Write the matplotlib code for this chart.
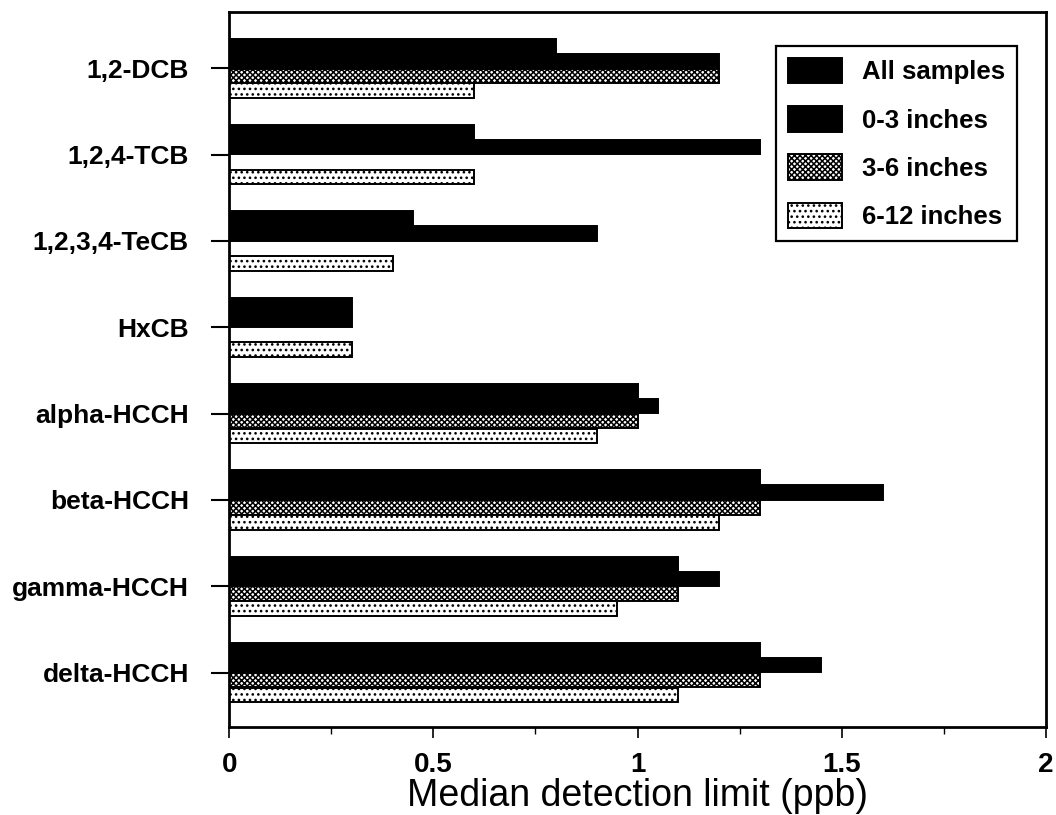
import numpy as np
import matplotlib
matplotlib.use("Agg")
import matplotlib.pyplot as plt
from matplotlib.ticker import MultipleLocator

# compounds, top to bottom
compuestos = ["1,2-DCB", "1,2,4-TCB", "1,2,3,4-TeCB", "HxCB",
              "alpha-HCCH", "beta-HCCH", "gamma-HCCH", "delta-HCCH"]

# median detection limit (ppb); nan = no bar
todas = [0.8, 0.6, 0.45, 0.3, 1.0, 1.3, 1.1, 1.3]
prof_0_3 = [1.2, 1.3, 0.9, 0.3, 1.05, 1.6, 1.2, 1.45]
prof_3_6 = [1.2, np.nan, np.nan, np.nan, 1.0, 1.3, 1.1, 1.3]
prof_6_12 = [0.6, 0.6, 0.4, 0.3, 0.9, 1.2, 0.95, 1.1]

etiquetas = ["All samples", "0-3 inches", "3-6 inches", "6-12 inches"]

plt.rcParams['font.family'] = ['Liberation Sans', 'DejaVu Sans']
plt.rcParams['hatch.linewidth'] = 1.1

fig = plt.figure(figsize=(10.56, 8.15), dpi=100)
ax = fig.add_axes([0.217, 0.108, 0.7735, 0.877])

y = np.arange(len(compuestos))
paso = 0.173
alto = 0.168

series = [todas, prof_0_3, prof_3_6, prof_6_12]
estilos = [
    dict(color="black", edgecolor="black"),
    dict(color="black", edgecolor="black"),
    dict(facecolor="white", edgecolor="black", hatch="xxxxxx"),
    dict(facecolor="white", edgecolor="black", hatch="..."),
]
for i, (vals, est, lab) in enumerate(zip(series, estilos, etiquetas)):
    ax.barh(y + (i - 1.5) * paso, vals, height=alto, linewidth=1.4,
            label=lab, **est)

ax.set_xlim(0, 2)
ax.set_ylim(7.63, -0.65)
ax.set_yticks(y)
ax.set_yticklabels(compuestos, fontsize=19, fontweight="bold")
ax.xaxis.set_minor_locator(MultipleLocator(0.25))
ax.set_xticks([0, 0.5, 1, 1.5, 2])
ax.set_xticklabels(["0", "0.5", "1", "1.5", "2"], fontsize=20, fontweight="bold")

ax.tick_params(axis="y", length=13, width=1.5, pad=16)
ax.tick_params(axis="x", which="major", length=8, width=1.2, pad=10)
ax.tick_params(axis="x", which="minor", length=5, width=1.0)

for s in ax.spines.values():
    s.set_linewidth(2)

ax.set_xlabel("Median detection limit (ppb)", fontsize=27, labelpad=0)

leg = ax.legend(loc="upper right", bbox_to_anchor=(0.9645, 0.9524),
                borderaxespad=0, fancybox=False, edgecolor="black", framealpha=1,
                prop=dict(size=18.5, weight="bold"),
                handlelength=2.1, handleheight=1.15, labelspacing=0.85,
                handletextpad=0.8, borderpad=0.45)
leg.get_frame().set_linewidth(1.6)

plt.savefig("out.png", dpi=100)
